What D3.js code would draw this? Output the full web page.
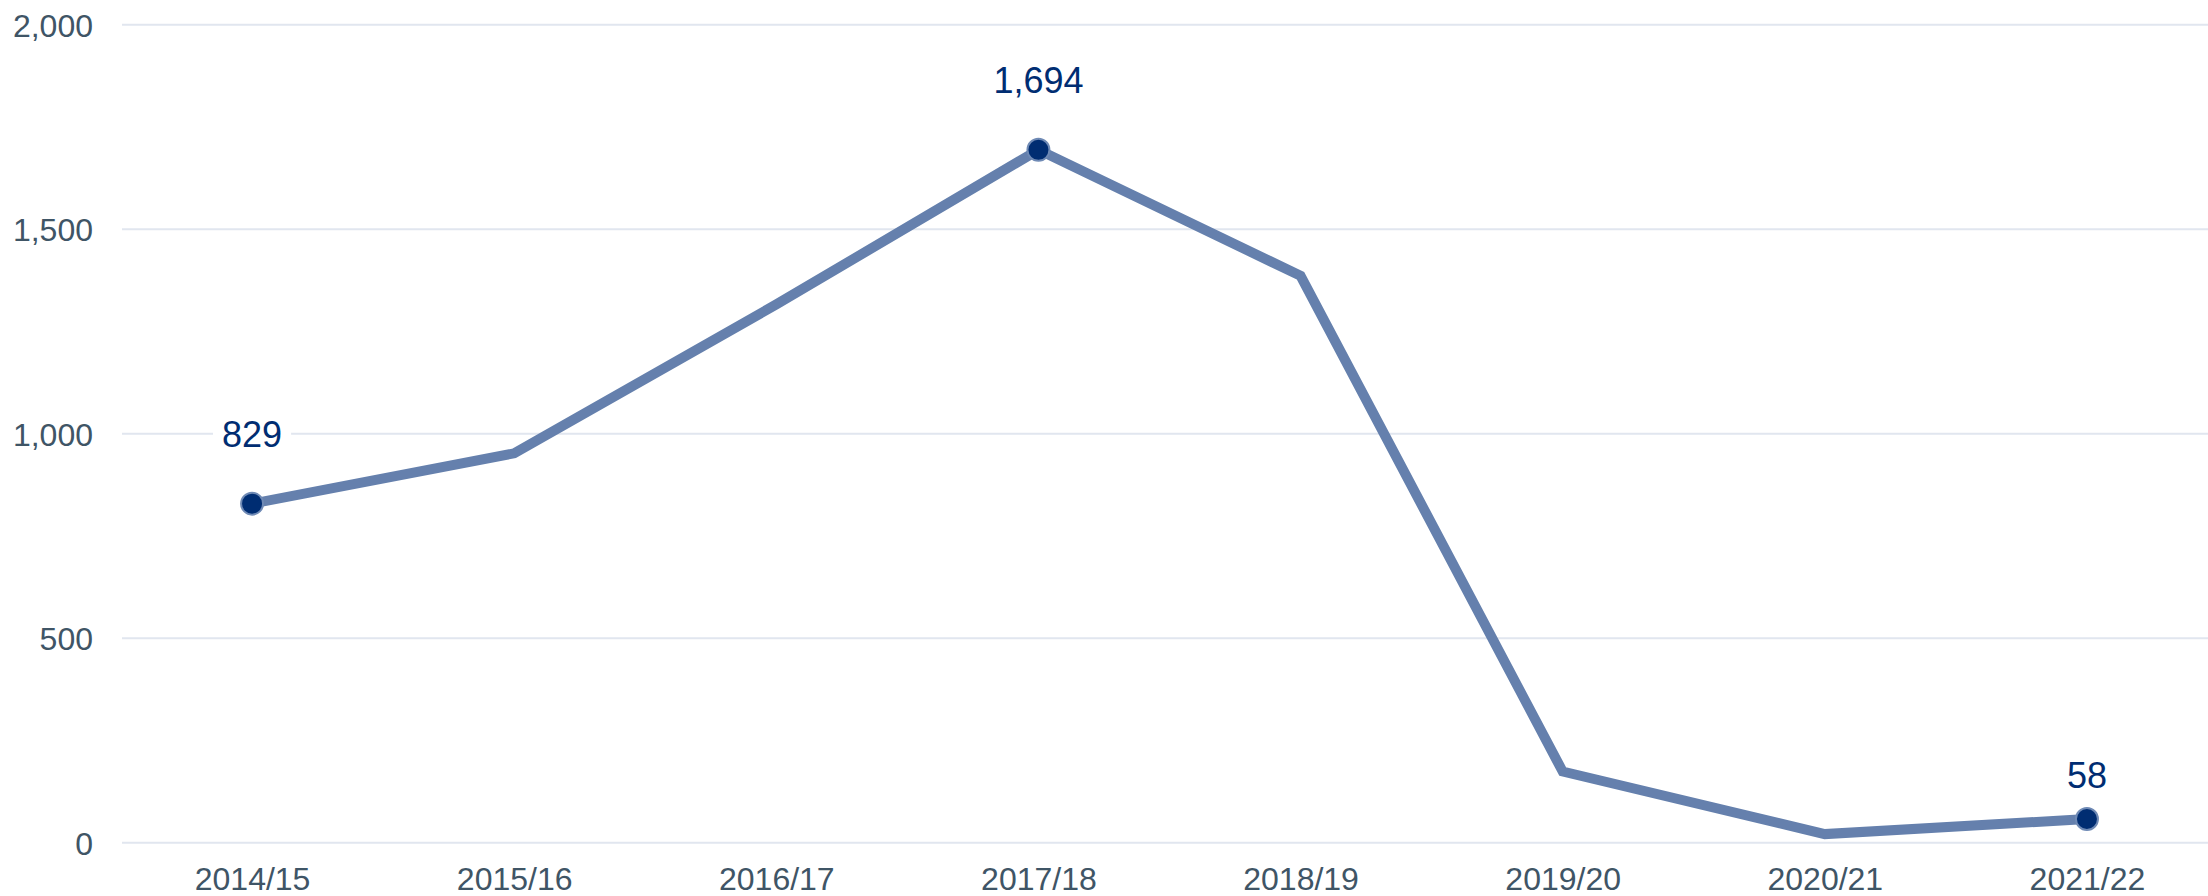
<!DOCTYPE html>
<html>
<head>
<meta charset="utf-8">
<script src="https://cdn.jsdelivr.net/npm/d3@7"></script>
<style>
  html, body { margin: 0; padding: 0; background: #ffffff; }
  svg { display: block; }
</style>
</head>
<body>
<svg id="chart" width="2208" height="896"></svg>
<script>
const categories = ["2014/15", "2015/16", "2016/17", "2017/18", "2018/19", "2019/20", "2020/21", "2021/22"];
const values = [829, 952, 1316, 1694, 1386, 174, 21, 58];
const labelledIndices = [0, 3, 7];
const yTicks = [0, 500, 1000, 1500, 2000];

const W = 2208, H = 896;
const svg = d3.select("#chart");
const font = "'Liberation Sans', Arial, sans-serif";

const x = d3.scalePoint().domain(categories).range([121, 2218]).padding(0.5);
const y = d3.scaleLinear().domain([0, 2000]).range([842.7, 24.7]);

// gridlines
const gridG = svg.append("g");
gridG.selectAll("line").data(yTicks).join("line")
  .attr("x1", 122).attr("x2", W)
  .attr("y1", d => y(d)).attr("y2", d => y(d))
  .attr("stroke", "#e1e6ef").attr("stroke-width", 2);

// y axis labels
const yAxis = d3.axisLeft(y).tickValues(yTicks).tickSize(0).tickPadding(0)
  .tickFormat(d3.format(","));
const yG = svg.append("g").attr("transform", "translate(93,0)").call(yAxis);
yG.select(".domain").remove();
yG.selectAll("text")
  .attr("font-family", font).attr("font-size", 32).attr("fill", "#3f5566")
  .attr("dy", "0.36em").attr("x", 0);

// x axis labels
const xAxis = d3.axisBottom(x).tickSize(0).tickPadding(0);
const xG = svg.append("g").call(xAxis);
xG.select(".domain").remove();
xG.selectAll("text")
  .attr("font-family", font).attr("font-size", 32).attr("fill", "#3f5566")
  .attr("y", 890).attr("dy", 0);

// line
const line = d3.line()
  .x((d, i) => x(categories[i]))
  .y(d => y(d));
svg.append("path").datum(values)
  .attr("d", line)
  .attr("fill", "none")
  .attr("stroke", "#6580ad")
  .attr("stroke-width", 10)
  .attr("stroke-linejoin", "miter");

// points
const labelled = labelledIndices.map(i => ({ i, cat: categories[i], v: values[i] }));
svg.append("g").selectAll("circle").data(labelled).join("circle")
  .attr("cx", d => x(d.cat)).attr("cy", d => y(d.v))
  .attr("r", 11)
  .attr("fill", "#002d72")
  .attr("stroke", "#6f8ab5").attr("stroke-width", 2);

// data labels
const lg = svg.append("g").selectAll("g").data(labelled).join("g")
  .attr("transform", d => {
    const off = d.i === categories.length - 1 ? 31 : 57;
    return `translate(${x(d.cat)},${y(d.v) - off})`;
  });
lg.append("text")
  .attr("text-anchor", "middle")
  .attr("font-family", font).attr("font-size", 36)
  .attr("fill", "#002d72")
  .text(d => d3.format(",")(d.v));
lg.each(function() {
  const g = d3.select(this);
  const bb = g.select("text").node().getBBox();
  g.insert("rect", "text")
    .attr("x", bb.x - 9).attr("y", bb.y - 2)
    .attr("width", bb.width + 18).attr("height", bb.height + 4)
    .attr("fill", "#ffffff");
});
</script>
</body>
</html>
